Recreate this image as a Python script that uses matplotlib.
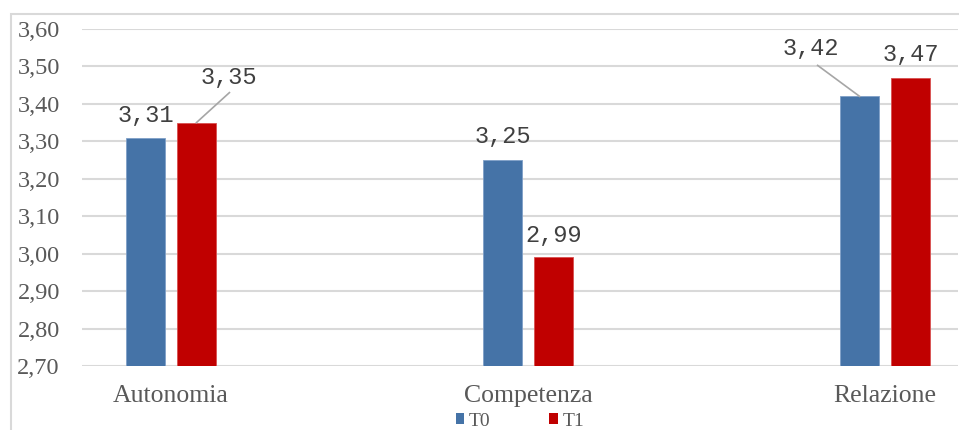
import matplotlib
matplotlib.use("Agg")
import matplotlib.pyplot as plt
from matplotlib.patches import Rectangle, Patch

categories = ["Autonomia", "Competenza", "Relazione"]
t0_values = [3.31, 3.25, 3.42]
t1_values = [3.35, 2.99, 3.47]
series_names = ["T0", "T1"]
y_ticks = [2.70, 2.80, 2.90, 3.00, 3.10, 3.20, 3.30, 3.40, 3.50, 3.60]

BLUE = "#4573A7"
RED = "#C00000"
GRID = "#D9D9D9"
TXT = "#595959"

W, H = 959, 430
fig = plt.figure(figsize=(W / 100, H / 100), dpi=100)

# outer chart frame
fig.patches.append(Rectangle((11 / W, -0.1), 1.2, (H - 14) / H + 0.1,
                             transform=fig.transFigure, fill=False,
                             edgecolor=GRID, linewidth=1.5))

ax = fig.add_axes([82 / W, (H - 366) / H, (958 - 82) / W, (366 - 29) / H])

x = list(range(len(categories)))
bw = 0.109
off = 0.0714
ax.bar([i - off for i in x], [v - 2.70 for v in t0_values], bottom=2.70,
       width=bw, color=BLUE, edgecolor="#7FA0C8", linewidth=0.6, zorder=3)
ax.bar([i + off for i in x], [v - 2.70 for v in t1_values], bottom=2.70,
       width=bw, color=RED, edgecolor="#D85050", linewidth=0.6, zorder=3)

ax.set_xlim(-0.249, 2.204)
ax.set_ylim(2.70, 3.60)
ax.set_yticks(y_ticks)
ax.set_yticklabels([f"{t:.2f}".replace(".", ",") for t in y_ticks],
                   family="Liberation Serif", fontsize=17.5, color=TXT)
ax.set_xticks(x)
ax.set_xticklabels(categories, family="Liberation Serif", fontsize=18.5, color=TXT)
ax.tick_params(axis="both", length=0)
ax.tick_params(axis="y", pad=16)
ax.tick_params(axis="x", pad=14)
for s in ax.spines.values():
    s.set_visible(False)
ax.grid(axis="y", color=GRID, linewidth=1.5, zorder=0)
ax.set_axisbelow(True)


def fmt(v):
    return f"{v:.2f}".replace(".", ",")


lab_kw = dict(family="Liberation Mono", fontsize=17, color="#404040",
              ha="center", va="center", zorder=5)
px = 1 / 374.4  # data units per pixel vertically (0.1 per 37.44 px)
xpx = 1 / 357.0

# Autonomia
ax.text(0 - off, t0_values[0] + 22 * px, fmt(t0_values[0]), **lab_kw)
ax.text(0 + off + 32 * xpx, t1_values[0] + 45 * px, fmt(t1_values[0]), **lab_kw)
ax.plot([0 + off, 0 + off + 33 * xpx], [t1_values[0], t1_values[0] + 30 * px],
        color="#A6A6A6", linewidth=1.2, zorder=4)
# Competenza
ax.text(1 - off, t0_values[1] + 24 * px, fmt(t0_values[1]), **lab_kw)
ax.text(1 + off, t1_values[1] + 22 * px, fmt(t1_values[1]), **lab_kw)
# Relazione
ax.text(2 - off - 49 * xpx, t0_values[2] + 48 * px, fmt(t0_values[2]), **lab_kw)
ax.plot([2 - off - 42 * xpx, 2 - off], [t0_values[2] + 31 * px, t0_values[2]],
        color="#A6A6A6", linewidth=1.2, zorder=4)
ax.text(2 + off, t1_values[2] + 23 * px, fmt(t1_values[2]), **lab_kw)

handles = [Patch(facecolor=BLUE), Patch(facecolor=RED)]
fig.legend(handles, series_names, loc="center", bbox_to_anchor=(520 / W, (H - 421) / H),
           ncol=2, frameon=False, handlelength=0.45, handleheight=0.45,
           handletextpad=0.25, columnspacing=3.0,
           prop={"family": "Liberation Serif", "size": 14}, labelcolor=TXT)

fig.savefig("out.png", dpi=100)
